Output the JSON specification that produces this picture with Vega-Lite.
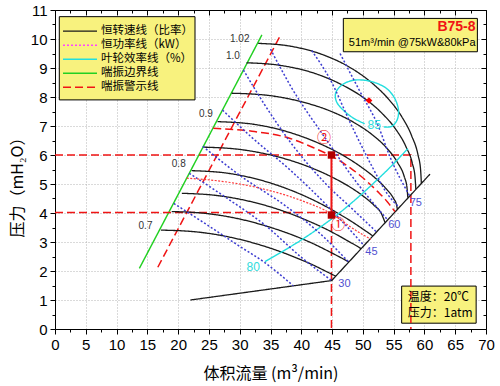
{
  "$schema": "https://vega.github.io/schema/vega-lite/v6.json",
  "width": 431,
  "height": 319,
  "autosize": {"type": "none"},
  "padding": {"left": 55, "top": 10, "right": 14, "bottom": 57},
  "background": "white",
  "config": {
    "view": {"stroke": null},
    "font": "Liberation Sans",
    "axis": {"domainColor": "black", "tickColor": "black", "labelColor": "black", "labelFont": "Liberation Sans", "labelFontSize": 15, "labelFlush": false, "labelOverlap": false, "grid": false, "domain": false, "labels": false, "title": null, "ticks": true, "tickWidth": 1, "domainWidth": 1}
  },
  "datasets": {
    "boxes": [
      {"x": 46.83, "x2": 68.6, "y": 10.71, "y2": 9.56},
      {"x": 56.3, "x2": 68.4, "y": 1.48, "y2": 0.2},
      {"x": 0.7, "x2": 22.74, "y": 10.77, "y2": 7.9}
    ],
    "curves": [
      {"id": "c1", "s": "恒转速线（比率）", "x": 17.2, "y": 3.41}, {"id": "c1", "s": "恒转速线（比率）", "x": 22.88, "y": 3.35}, {"id": "c1", "s": "恒转速线（比率）", "x": 28.56, "y": 3.16}, {"id": "c1", "s": "恒转速线（比率）", "x": 32.82, "y": 2.93}, {"id": "c1", "s": "恒转速线（比率）", "x": 37.08, "y": 2.63}, {"id": "c1", "s": "恒转速线（比率）", "x": 39.92, "y": 2.39}, {"id": "c1", "s": "恒转速线（比率）", "x": 42.19, "y": 2.18}, {"id": "c1", "s": "恒转速线（比率）", "x": 43.9, "y": 2.0}, {"id": "c1", "s": "恒转速线（比率）", "x": 45.04, "y": 1.88}, {"id": "c1", "s": "恒转速线（比率）", "x": 45.6, "y": 1.82},
      {"id": "c2", "s": "恒转速线（比率）", "x": 18.95, "y": 4.05}, {"id": "c2", "s": "恒转速线（比率）", "x": 24.7, "y": 3.98}, {"id": "c2", "s": "恒转速线（比率）", "x": 30.45, "y": 3.77}, {"id": "c2", "s": "恒转速线（比率）", "x": 34.76, "y": 3.52}, {"id": "c2", "s": "恒转速线（比率）", "x": 39.08, "y": 3.2}, {"id": "c2", "s": "恒转速线（比率）", "x": 41.95, "y": 2.94}, {"id": "c2", "s": "恒转速线（比率）", "x": 44.25, "y": 2.7}, {"id": "c2", "s": "恒转速线（比率）", "x": 45.98, "y": 2.51}, {"id": "c2", "s": "恒转速线（比率）", "x": 47.13, "y": 2.38}, {"id": "c2", "s": "恒转速线（比率）", "x": 47.7, "y": 2.31},
      {"id": "c3", "s": "恒转速线（比率）", "x": 20.6, "y": 4.68}, {"id": "c3", "s": "恒转速线（比率）", "x": 26.42, "y": 4.6}, {"id": "c3", "s": "恒转速线（比率）", "x": 32.24, "y": 4.37}, {"id": "c3", "s": "恒转速线（比率）", "x": 36.61, "y": 4.1}, {"id": "c3", "s": "恒转速线（比率）", "x": 40.97, "y": 3.74}, {"id": "c3", "s": "恒转速线（比率）", "x": 43.88, "y": 3.46}, {"id": "c3", "s": "恒转速线（比率）", "x": 46.21, "y": 3.2}, {"id": "c3", "s": "恒转速线（比率）", "x": 47.95, "y": 2.99}, {"id": "c3", "s": "恒转速线（比率）", "x": 49.12, "y": 2.85}, {"id": "c3", "s": "恒转速线（比率）", "x": 49.7, "y": 2.77},
      {"id": "c4", "s": "恒转速线（比率）", "x": 22.2, "y": 5.46}, {"id": "c4", "s": "恒转速线（比率）", "x": 28.08, "y": 5.37}, {"id": "c4", "s": "恒转速线（比率）", "x": 33.96, "y": 5.1}, {"id": "c4", "s": "恒转速线（比率）", "x": 38.37, "y": 4.78}, {"id": "c4", "s": "恒转速线（比率）", "x": 42.78, "y": 4.36}, {"id": "c4", "s": "恒转速线（比率）", "x": 45.72, "y": 4.02}, {"id": "c4", "s": "恒转速线（比率）", "x": 48.07, "y": 3.72}, {"id": "c4", "s": "恒转速线（比率）", "x": 49.84, "y": 3.47}, {"id": "c4", "s": "恒转速线（比率）", "x": 51.01, "y": 3.3}, {"id": "c4", "s": "恒转速线（比率）", "x": 51.6, "y": 3.21},
      {"id": "c5", "s": "恒转速线（比率）", "x": 24.2, "y": 6.27}, {"id": "c5", "s": "恒转速线（比率）", "x": 30.08, "y": 6.19}, {"id": "c5", "s": "恒转速线（比率）", "x": 35.96, "y": 5.95}, {"id": "c5", "s": "恒转速线（比率）", "x": 40.37, "y": 5.66}, {"id": "c5", "s": "恒转速线（比率）", "x": 44.78, "y": 5.26}, {"id": "c5", "s": "恒转速线（比率）", "x": 47.72, "y": 4.92}, {"id": "c5", "s": "恒转速线（比率）", "x": 50.07, "y": 4.58}, {"id": "c5", "s": "恒转速线（比率）", "x": 51.84, "y": 4.26}, {"id": "c5", "s": "恒转速线（比率）", "x": 53.01, "y": 3.98}, {"id": "c5", "s": "恒转速线（比率）", "x": 53.6, "y": 3.67},
      {"id": "c6", "s": "恒转速线（比率）", "x": 26.4, "y": 7.15}, {"id": "c6", "s": "恒转速线（比率）", "x": 32.24, "y": 7.06}, {"id": "c6", "s": "恒转速线（比率）", "x": 38.08, "y": 6.78}, {"id": "c6", "s": "恒转速线（比率）", "x": 42.46, "y": 6.44}, {"id": "c6", "s": "恒转速线（比率）", "x": 46.84, "y": 5.98}, {"id": "c6", "s": "恒转速线（比率）", "x": 49.76, "y": 5.58}, {"id": "c6", "s": "恒转速线（比率）", "x": 52.1, "y": 5.19}, {"id": "c6", "s": "恒转速线（比率）", "x": 53.85, "y": 4.82}, {"id": "c6", "s": "恒转速线（比率）", "x": 55.02, "y": 4.49}, {"id": "c6", "s": "恒转速线（比率）", "x": 55.45, "y": 4.3}, {"id": "c6", "s": "恒转速线（比率）", "x": 55.6, "y": 4.13},
      {"id": "c7", "s": "恒转速线（比率）", "x": 28.7, "y": 8.13}, {"id": "c7", "s": "恒转速线（比率）", "x": 34.42, "y": 8.06}, {"id": "c7", "s": "恒转速线（比率）", "x": 40.14, "y": 7.83}, {"id": "c7", "s": "恒转速线（比率）", "x": 44.43, "y": 7.54}, {"id": "c7", "s": "恒转速线（比率）", "x": 48.72, "y": 7.1}, {"id": "c7", "s": "恒转速线（比率）", "x": 51.58, "y": 6.69}, {"id": "c7", "s": "恒转速线（比率）", "x": 53.87, "y": 6.24}, {"id": "c7", "s": "恒转速线（比率）", "x": 55.58, "y": 5.76}, {"id": "c7", "s": "恒转速线（比率）", "x": 56.73, "y": 5.25}, {"id": "c7", "s": "恒转速线（比率）", "x": 57.16, "y": 4.89}, {"id": "c7", "s": "恒转速线（比率）", "x": 57.3, "y": 4.53},
      {"id": "c8", "s": "恒转速线（比率）", "x": 31.1, "y": 9.18}, {"id": "c8", "s": "恒转速线（比率）", "x": 36.6, "y": 9.09}, {"id": "c8", "s": "恒转速线（比率）", "x": 42.1, "y": 8.82}, {"id": "c8", "s": "恒转速线（比率）", "x": 46.23, "y": 8.46}, {"id": "c8", "s": "恒转速线（比率）", "x": 50.35, "y": 7.94}, {"id": "c8", "s": "恒转速线（比率）", "x": 53.1, "y": 7.44}, {"id": "c8", "s": "恒转速线（比率）", "x": 55.3, "y": 6.9}, {"id": "c8", "s": "恒转速线（比率）", "x": 56.95, "y": 6.31}, {"id": "c8", "s": "恒转速线（比率）", "x": 58.05, "y": 5.7}, {"id": "c8", "s": "恒转速线（比率）", "x": 58.46, "y": 5.27}, {"id": "c8", "s": "恒转速线（比率）", "x": 58.6, "y": 4.83},
      {"id": "c9", "s": "恒转速线（比率）", "x": 33.0, "y": 9.85}, {"id": "c9", "s": "恒转速线（比率）", "x": 38.3, "y": 9.75}, {"id": "c9", "s": "恒转速线（比率）", "x": 43.6, "y": 9.45}, {"id": "c9", "s": "恒转速线（比率）", "x": 47.58, "y": 9.06}, {"id": "c9", "s": "恒转速线（比率）", "x": 51.55, "y": 8.47}, {"id": "c9", "s": "恒转速线（比率）", "x": 54.2, "y": 7.92}, {"id": "c9", "s": "恒转速线（比率）", "x": 56.32, "y": 7.32}, {"id": "c9", "s": "恒转速线（比率）", "x": 57.91, "y": 6.67}, {"id": "c9", "s": "恒转速线（比率）", "x": 58.97, "y": 5.99}, {"id": "c9", "s": "恒转速线（比率）", "x": 59.37, "y": 5.51}, {"id": "c9", "s": "恒转速线（比率）", "x": 59.5, "y": 5.03},
      {"id": "rc", "s": "喘振警示线", "x": 25.7, "y": 6.92}, {"id": "rc", "s": "喘振警示线", "x": 32, "y": 6.82}, {"id": "rc", "s": "喘振警示线", "x": 38.2, "y": 6.57}, {"id": "rc", "s": "喘振警示线", "x": 42, "y": 6.25}, {"id": "rc", "s": "喘振警示线", "x": 45, "y": 5.95}, {"id": "rc", "s": "喘振警示线", "x": 48, "y": 5.55}, {"id": "rc", "s": "喘振警示线", "x": 50.5, "y": 5.12}, {"id": "rc", "s": "喘振警示线", "x": 52.5, "y": 4.72}, {"id": "rc", "s": "喘振警示线", "x": 54, "y": 4.38}, {"id": "rc", "s": "喘振警示线", "x": 55.2, "y": 4.05},
      {"id": "e80", "s": "叶轮效率线（%）", "x": 34.1, "y": 2.32}, {"id": "e80", "s": "叶轮效率线（%）", "x": 37, "y": 2.68}, {"id": "e80", "s": "叶轮效率线（%）", "x": 40, "y": 3.07}, {"id": "e80", "s": "叶轮效率线（%）", "x": 43, "y": 3.5}, {"id": "e80", "s": "叶轮效率线（%）", "x": 46, "y": 3.97}, {"id": "e80", "s": "叶轮效率线（%）", "x": 49, "y": 4.5}, {"id": "e80", "s": "叶轮效率线（%）", "x": 52, "y": 5.08}, {"id": "e80", "s": "叶轮效率线（%）", "x": 55, "y": 5.7}, {"id": "e80", "s": "叶轮效率线（%）", "x": 57.3, "y": 6.22}
    ],
    "poly": [
      {"id": "g", "s": "喘振边界线", "o": 1, "x": 13.7, "y": 2.09}, {"id": "g", "s": "喘振边界线", "o": 2, "x": 33.6, "y": 10.14},
      {"id": "w", "s": "喘振警示线", "o": 1, "x": 16.7, "y": 2.13}, {"id": "w", "s": "喘振警示线", "o": 2, "x": 36.5, "y": 10.08},
      {"id": "r6", "s": "喘振警示线", "o": 1, "x": 0, "y": 6.0}, {"id": "r6", "s": "喘振警示线", "o": 2, "x": 57.8, "y": 6.0}, {"id": "r6", "s": "喘振警示线", "o": 3, "x": 57.8, "y": 0},
      {"id": "r4", "s": "喘振警示线", "o": 1, "x": 0, "y": 4.02}, {"id": "r4", "s": "喘振警示线", "o": 2, "x": 44.9, "y": 4.02}, {"id": "r4", "s": "喘振警示线", "o": 3, "x": 44.9, "y": 0},
      {"id": "ch", "s": "恒转速线（比率）", "o": 1, "x": 22, "y": 1.0}, {"id": "ch", "s": "恒转速线（比率）", "o": 2, "x": 44.94, "y": 1.67}, {"id": "ch", "s": "恒转速线（比率）", "o": 3, "x": 60.9, "y": 5.34}
    ],
    "ellipse": [
      {"id": "e85", "s": "叶轮效率线（%）", "o": 1, "x": 53.4, "y": 6.97}, {"id": "e85", "s": "叶轮效率线（%）", "o": 2, "x": 54.6, "y": 6.98}, {"id": "e85", "s": "叶轮效率线（%）", "o": 3, "x": 55.5, "y": 7.18}, {"id": "e85", "s": "叶轮效率线（%）", "o": 4, "x": 55.8, "y": 7.5}, {"id": "e85", "s": "叶轮效率线（%）", "o": 5, "x": 55.3, "y": 7.9}, {"id": "e85", "s": "叶轮效率线（%）", "o": 6, "x": 54.1, "y": 8.25}, {"id": "e85", "s": "叶轮效率线（%）", "o": 7, "x": 52.3, "y": 8.47}, {"id": "e85", "s": "叶轮效率线（%）", "o": 8, "x": 50.2, "y": 8.58}, {"id": "e85", "s": "叶轮效率线（%）", "o": 9, "x": 48.3, "y": 8.57}, {"id": "e85", "s": "叶轮效率线（%）", "o": 10, "x": 46.7, "y": 8.43}, {"id": "e85", "s": "叶轮效率线（%）", "o": 11, "x": 45.6, "y": 8.15}, {"id": "e85", "s": "叶轮效率线（%）", "o": 12, "x": 45.7, "y": 7.85}, {"id": "e85", "s": "叶轮效率线（%）", "o": 13, "x": 46.8, "y": 7.55}, {"id": "e85", "s": "叶轮效率线（%）", "o": 14, "x": 48.4, "y": 7.28}, {"id": "e85", "s": "叶轮效率线（%）", "o": 15, "x": 50.3, "y": 7.08}
    ],
    "power": [
      {"id": "b1", "x": 19.3, "y": 4.33}, {"id": "b1", "x": 25, "y": 3.55}, {"id": "b1", "x": 30, "y": 2.85}, {"id": "b1", "x": 34, "y": 2.3}, {"id": "b1", "x": 38.7, "y": 1.49},
      {"id": "b2", "x": 21.8, "y": 5.37}, {"id": "b2", "x": 28, "y": 4.5}, {"id": "b2", "x": 34, "y": 3.6}, {"id": "b2", "x": 40.3, "y": 2.42}, {"id": "b2", "x": 44.94, "y": 1.67},
      {"id": "b3", "x": 24.0, "y": 6.3}, {"id": "b3", "x": 30, "y": 5.3}, {"id": "b3", "x": 37.6, "y": 4.22}, {"id": "b3", "x": 43, "y": 3.3}, {"id": "b3", "x": 47.7, "y": 2.31},
      {"id": "b4", "x": 27.2, "y": 7.55}, {"id": "b4", "x": 32, "y": 6.6}, {"id": "b4", "x": 38.2, "y": 5.48}, {"id": "b4", "x": 44, "y": 4.3}, {"id": "b4", "x": 50.2, "y": 2.88},
      {"id": "b5", "x": 30.6, "y": 8.93}, {"id": "b5", "x": 34, "y": 7.75}, {"id": "b5", "x": 38.2, "y": 6.45}, {"id": "b5", "x": 44, "y": 5.0}, {"id": "b5", "x": 48.5, "y": 4.1}, {"id": "b5", "x": 52.2, "y": 3.35},
      {"id": "b6", "x": 35, "y": 9.65}, {"id": "b6", "x": 38.2, "y": 8.4}, {"id": "b6", "x": 44, "y": 6.55}, {"id": "b6", "x": 49, "y": 5.05}, {"id": "b6", "x": 54, "y": 3.77},
      {"id": "b7", "x": 41.7, "y": 9.6}, {"id": "b7", "x": 44.7, "y": 8.6}, {"id": "b7", "x": 48.2, "y": 7.0}, {"id": "b7", "x": 51.5, "y": 5.6}, {"id": "b7", "x": 54, "y": 4.65}, {"id": "b7", "x": 55.9, "y": 4.2},
      {"id": "b8", "x": 46.3, "y": 9.5}, {"id": "b8", "x": 49.5, "y": 8.2}, {"id": "b8", "x": 52.5, "y": 7.0}, {"id": "b8", "x": 54.4, "y": 5.94}, {"id": "b8", "x": 57.6, "y": 4.59}
    ],
    "pline": [
      {"x": 21.4, "y": 5.2}, {"x": 26, "y": 5.12}, {"x": 30, "y": 5.0}, {"x": 34, "y": 4.82}, {"x": 38, "y": 4.58}, {"x": 41, "y": 4.35}, {"x": 44, "y": 4.08}, {"x": 46, "y": 3.82}, {"x": 48, "y": 3.52}, {"x": 50, "y": 3.25}, {"x": 51.3, "y": 3.1}
    ],
    "vrule": [{"x": 44.9, "y": 3.93, "y2": 6.0}],
    "squares": [{"x": 44.9, "y": 6.0}, {"x": 44.9, "y": 3.93}],
    "design": [{"x": 51.0, "y": 7.88}],
    "labels": [
      {"t": "1.02", "x": 30.0, "y": 10.0, "g": "s"},
      {"t": "1.0", "x": 28.9, "y": 9.41, "g": "s"},
      {"t": "0.9", "x": 24.5, "y": 7.41, "g": "s"},
      {"t": "0.8", "x": 20.1, "y": 5.69, "g": "s"},
      {"t": "0.7", "x": 14.7, "y": 3.56, "g": "s"},
      {"t": "30", "x": 47.0, "y": 1.55, "g": "p"},
      {"t": "45", "x": 51.4, "y": 2.67, "g": "p"},
      {"t": "60", "x": 55.1, "y": 3.59, "g": "p"},
      {"t": "75", "x": 58.6, "y": 4.33, "g": "p"},
      {"t": "80", "x": 32.2, "y": 2.15, "g": "e"},
      {"t": "85", "x": 51.85, "y": 7.03, "g": "e"},
      {"t": "①", "x": 46.0, "y": 3.59, "g": "c"},
      {"t": "②", "x": 43.7, "y": 6.57, "g": "c"}
    ],
    "boxtext": [
      {"t": "B75-8", "x": 68.3, "y": 10.4, "g": "title"},
      {"t": "51m³/min @75kW&80kPa", "x": 68.3, "y": 9.86, "g": "sub"},
      {"t": "温度：20℃", "x": 57.3, "y": 1.1, "g": "env"},
      {"t": "压力：1atm", "x": 57.3, "y": 0.55, "g": "env"}
    ]
  },
  "resolve": {"axis": {"x": "independent", "y": "independent"}},
  "layer": [
    {
      "data": {"name": "boxes"},
      "mark": {"type": "rect", "fill": "#f8f27e", "stroke": "black", "strokeWidth": 1},
      "encoding": {
        "x": {"field": "x", "type": "quantitative", "scale": {"domain": [0, 70], "nice": false, "zero": false},
          "axis": {"orient": "bottom", "values": [0, 5, 10, 15, 20, 25, 30, 35, 40, 45, 50, 55, 60, 65, 70], "tickSize": 5, "labels": true, "domain": true, "grid": true, "gridColor": "#b4b4b4", "gridDash": [1, 2], "gridWidth": 1, "labelPadding": 3, "title": "体积流量 (m³/min)", "titleFont": "Noto Sans CJK SC", "titleFontSize": 16, "titleFontWeight": "normal", "titleColor": "black", "titleY": 44, "titleBaseline": "middle"}},
        "x2": {"field": "x2"},
        "y": {"field": "y", "type": "quantitative", "scale": {"domain": [0, 11], "nice": false, "zero": false},
          "axis": {"orient": "left", "values": [0, 1, 2, 3, 4, 5, 6, 7, 8, 9, 10, 11], "tickSize": 5, "labels": true, "domain": true, "grid": true, "gridColor": "#b4b4b4", "gridDash": [1, 2], "gridWidth": 1, "labelPadding": 3, "title": "压力（mH₂O）", "titleFont": "Noto Sans CJK SC", "titleFontSize": 16, "titleFontWeight": "normal", "titleColor": "black", "titleX": -38, "titleY": 173, "titleAngle": -90, "titleAlign": "center", "titleBaseline": "middle"}},
        "y2": {"field": "y2"}
      }
    },
    {
      "data": {"name": "poly"},
      "mark": {"type": "line"},
      "encoding": {
        "x": {"field": "x", "type": "quantitative", "scale": {"domain": [0, 70], "nice": false, "zero": false}, "axis": null},
        "y": {"field": "y", "type": "quantitative", "scale": {"domain": [0, 11], "nice": false, "zero": false}, "axis": null},
        "order": {"field": "o"},
        "detail": {"field": "id"},
        "color": {"field": "s", "type": "nominal", "scale": {"domain": ["恒转速线（比率）", "恒功率线（kW）", "叶轮效率线（%）", "喘振边界线", "喘振警示线"], "range": ["#1a1a1a", "#ff44ff", "#22dede", "#22d022", "#f01414"]},
          "legend": {"orient": "none", "legendX": 3, "legendY": 11.2, "title": null, "symbolType": "M-3.4,0L3.4,0", "symbolSize": 100, "symbolOffset": 12, "symbolStrokeWidth": 2, "rowPadding": 2, "padding": 4, "fillColor": null, "strokeColor": null, "labelFont": "Noto Sans CJK SC", "labelFontSize": 11.5, "labelColor": "black", "labelOffset": 15, "labelLimit": 300}},
        "strokeDash": {"field": "s", "type": "nominal", "scale": {"domain": ["恒转速线（比率）", "恒功率线（kW）", "叶轮效率线（%）", "喘振边界线", "喘振警示线"], "range": [[1, 0], [2, 2], [1, 0], [1, 0], [8, 4]]},
          "legend": {"orient": "none", "legendX": 3, "legendY": 11.2, "title": null, "symbolType": "M-3.4,0L3.4,0", "symbolSize": 100, "symbolOffset": 12, "symbolStrokeWidth": 2, "rowPadding": 2, "padding": 4, "fillColor": null, "strokeColor": null, "labelFont": "Noto Sans CJK SC", "labelFontSize": 11.5, "labelColor": "black", "labelOffset": 15, "labelLimit": 300}},
        "strokeWidth": {"field": "s", "type": "ordinal", "scale": {"domain": ["恒转速线（比率）", "恒功率线（kW）", "叶轮效率线（%）", "喘振边界线", "喘振警示线"], "range": [1.3, 1.5, 2, 2, 2]}, "legend": null}
      }
    },
    {
      "data": {"name": "curves"},
      "mark": {"type": "line", "interpolate": "monotone"},
      "encoding": {
        "x": {"field": "x", "type": "quantitative", "scale": {"domain": [0, 70], "nice": false, "zero": false}, "axis": null},
        "y": {"field": "y", "type": "quantitative", "scale": {"domain": [0, 11], "nice": false, "zero": false}, "axis": null},
        "detail": {"field": "id"},
        "color": {"field": "s", "type": "nominal", "scale": {"domain": ["恒转速线（比率）", "恒功率线（kW）", "叶轮效率线（%）", "喘振边界线", "喘振警示线"], "range": ["#1a1a1a", "#ff44ff", "#22dede", "#22d022", "#f01414"]},
          "legend": {"orient": "none", "legendX": 3, "legendY": 11.2, "title": null, "symbolType": "M-3.4,0L3.4,0", "symbolSize": 100, "symbolOffset": 12, "symbolStrokeWidth": 2, "rowPadding": 2, "padding": 4, "fillColor": null, "strokeColor": null, "labelFont": "Noto Sans CJK SC", "labelFontSize": 11.5, "labelColor": "black", "labelOffset": 15, "labelLimit": 300}},
        "strokeDash": {"field": "s", "type": "nominal", "scale": {"domain": ["恒转速线（比率）", "恒功率线（kW）", "叶轮效率线（%）", "喘振边界线", "喘振警示线"], "range": [[1, 0], [2, 2], [1, 0], [1, 0], [8, 4]]},
          "legend": {"orient": "none", "legendX": 3, "legendY": 11.2, "title": null, "symbolType": "M-3.4,0L3.4,0", "symbolSize": 100, "symbolOffset": 12, "symbolStrokeWidth": 2, "rowPadding": 2, "padding": 4, "fillColor": null, "strokeColor": null, "labelFont": "Noto Sans CJK SC", "labelFontSize": 11.5, "labelColor": "black", "labelOffset": 15, "labelLimit": 300}},
        "strokeWidth": {"field": "s", "type": "ordinal", "scale": {"domain": ["恒转速线（比率）", "恒功率线（kW）", "叶轮效率线（%）", "喘振边界线", "喘振警示线"], "range": [1.3, 1.5, 2, 2, 2]}, "legend": null}
      }
    },
    {
      "data": {"name": "ellipse"},
      "mark": {"type": "line", "interpolate": "catmull-rom"},
      "encoding": {
        "x": {"field": "x", "type": "quantitative", "scale": {"domain": [0, 70], "nice": false, "zero": false}, "axis": null},
        "y": {"field": "y", "type": "quantitative", "scale": {"domain": [0, 11], "nice": false, "zero": false}, "axis": null},
        "order": {"field": "o"},
        "detail": {"field": "id"},
        "color": {"field": "s", "type": "nominal", "scale": {"domain": ["恒转速线（比率）", "恒功率线（kW）", "叶轮效率线（%）", "喘振边界线", "喘振警示线"], "range": ["#1a1a1a", "#ff44ff", "#22dede", "#22d022", "#f01414"]},
          "legend": {"orient": "none", "legendX": 3, "legendY": 11.2, "title": null, "symbolType": "M-3.4,0L3.4,0", "symbolSize": 100, "symbolOffset": 12, "symbolStrokeWidth": 2, "rowPadding": 2, "padding": 4, "fillColor": null, "strokeColor": null, "labelFont": "Noto Sans CJK SC", "labelFontSize": 11.5, "labelColor": "black", "labelOffset": 15, "labelLimit": 300}},
        "strokeDash": {"field": "s", "type": "nominal", "scale": {"domain": ["恒转速线（比率）", "恒功率线（kW）", "叶轮效率线（%）", "喘振边界线", "喘振警示线"], "range": [[1, 0], [2, 2], [1, 0], [1, 0], [8, 4]]},
          "legend": {"orient": "none", "legendX": 3, "legendY": 11.2, "title": null, "symbolType": "M-3.4,0L3.4,0", "symbolSize": 100, "symbolOffset": 12, "symbolStrokeWidth": 2, "rowPadding": 2, "padding": 4, "fillColor": null, "strokeColor": null, "labelFont": "Noto Sans CJK SC", "labelFontSize": 11.5, "labelColor": "black", "labelOffset": 15, "labelLimit": 300}},
        "strokeWidth": {"field": "s", "type": "ordinal", "scale": {"domain": ["恒转速线（比率）", "恒功率线（kW）", "叶轮效率线（%）", "喘振边界线", "喘振警示线"], "range": [1.3, 1.5, 2, 2, 2]}, "legend": null}
      }
    },
    {
      "data": {"name": "power"},
      "mark": {"type": "line", "interpolate": "monotone", "color": "#3c3cd0", "strokeDash": [2, 2], "strokeWidth": 1.5},
      "encoding": {
        "x": {"field": "x", "type": "quantitative", "scale": {"domain": [0, 70], "nice": false, "zero": false}, "axis": null},
        "y": {"field": "y", "type": "quantitative", "scale": {"domain": [0, 11], "nice": false, "zero": false}, "axis": null},
        "detail": {"field": "id"}
      }
    },
    {
      "data": {"name": "pline"},
      "mark": {"type": "line", "interpolate": "monotone", "color": "#ff3b3b", "strokeDash": [2, 1.5], "strokeWidth": 1.2},
      "encoding": {
        "x": {"field": "x", "type": "quantitative", "scale": {"domain": [0, 70], "nice": false, "zero": false}, "axis": null},
        "y": {"field": "y", "type": "quantitative", "scale": {"domain": [0, 11], "nice": false, "zero": false}, "axis": null}
      }
    },
    {
      "data": {"name": "vrule"},
      "mark": {"type": "rule", "color": "#f01414", "strokeWidth": 2},
      "encoding": {
        "x": {"field": "x", "type": "quantitative", "scale": {"domain": [0, 70], "nice": false, "zero": false}, "axis": null},
        "y": {"field": "y", "type": "quantitative", "scale": {"domain": [0, 11], "nice": false, "zero": false}, "axis": null},
        "y2": {"field": "y2"}
      }
    },
    {
      "data": {"name": "squares"},
      "mark": {"type": "point", "shape": "square", "filled": true, "color": "#b30000", "size": 55, "opacity": 1},
      "encoding": {
        "x": {"field": "x", "type": "quantitative", "scale": {"domain": [0, 70], "nice": false, "zero": false}, "axis": null},
        "y": {"field": "y", "type": "quantitative", "scale": {"domain": [0, 11], "nice": false, "zero": false}, "axis": null}
      }
    },
    {
      "data": {"name": "design"},
      "mark": {"type": "point", "shape": "diamond", "filled": true, "color": "#ff0000", "size": 45, "opacity": 1},
      "encoding": {
        "x": {"field": "x", "type": "quantitative", "scale": {"domain": [0, 70], "nice": false, "zero": false}, "axis": null},
        "y": {"field": "y", "type": "quantitative", "scale": {"domain": [0, 11], "nice": false, "zero": false}, "axis": null}
      }
    },
    {
      "data": {"name": "labels"},
      "transform": [{"filter": "datum.g == 's'"}],
      "mark": {"type": "text", "font": "Liberation Sans", "fontSize": 10, "color": "#333333", "align": "center", "baseline": "middle"},
      "encoding": {
        "x": {"field": "x", "type": "quantitative", "scale": {"domain": [0, 70], "nice": false, "zero": false},
          "axis": {"orient": "bottom", "values": [2.5, 7.5, 12.5, 17.5, 22.5, 27.5, 32.5, 37.5, 42.5, 47.5, 52.5, 57.5, 62.5, 67.5], "tickSize": 3, "labels": false, "domain": false, "grid": false, "title": null}},
        "y": {"field": "y", "type": "quantitative", "scale": {"domain": [0, 11], "nice": false, "zero": false},
          "axis": {"orient": "left", "values": [0.5, 1.5, 2.5, 3.5, 4.5, 5.5, 6.5, 7.5, 8.5, 9.5, 10.5], "tickSize": 3, "labels": false, "domain": false, "grid": false, "title": null}},
        "text": {"field": "t"}
      }
    },
    {
      "data": {"name": "labels"},
      "transform": [{"filter": "datum.g == 'p'"}],
      "mark": {"type": "text", "font": "Liberation Sans", "fontSize": 11, "color": "#5050d0", "align": "center", "baseline": "middle"},
      "encoding": {
        "x": {"field": "x", "type": "quantitative", "scale": {"domain": [0, 70], "nice": false, "zero": false},
          "axis": {"orient": "top", "values": [0, 5, 10, 15, 20, 25, 30, 35, 40, 45, 50, 55, 60, 65, 70], "tickSize": -5, "labels": false, "domain": true, "grid": false, "title": null}},
        "y": {"field": "y", "type": "quantitative", "scale": {"domain": [0, 11], "nice": false, "zero": false},
          "axis": {"orient": "right", "values": [0, 1, 2, 3, 4, 5, 6, 7, 8, 9, 10, 11], "tickSize": -5, "labels": false, "domain": true, "grid": false, "title": null}},
        "text": {"field": "t"}
      }
    },
    {
      "data": {"name": "labels"},
      "transform": [{"filter": "datum.g == 'e'"}],
      "mark": {"type": "text", "font": "Liberation Sans", "fontSize": 12, "color": "#30dcdc", "align": "center", "baseline": "middle"},
      "encoding": {
        "x": {"field": "x", "type": "quantitative", "scale": {"domain": [0, 70], "nice": false, "zero": false},
          "axis": {"orient": "top", "values": [2.5, 7.5, 12.5, 17.5, 22.5, 27.5, 32.5, 37.5, 42.5, 47.5, 52.5, 57.5, 62.5, 67.5], "tickSize": -3, "labels": false, "domain": false, "grid": false, "title": null}},
        "y": {"field": "y", "type": "quantitative", "scale": {"domain": [0, 11], "nice": false, "zero": false},
          "axis": {"orient": "right", "values": [0.5, 1.5, 2.5, 3.5, 4.5, 5.5, 6.5, 7.5, 8.5, 9.5, 10.5], "tickSize": -3, "labels": false, "domain": false, "grid": false, "title": null}},
        "text": {"field": "t"}
      }
    },
    {
      "data": {"name": "labels"},
      "transform": [{"filter": "datum.g == 'c'"}],
      "mark": {"type": "text", "font": "Noto Sans CJK SC", "fontSize": 14, "color": "#f01414", "align": "center", "baseline": "middle"},
      "encoding": {
        "x": {"field": "x", "type": "quantitative", "scale": {"domain": [0, 70], "nice": false, "zero": false}, "axis": null},
        "y": {"field": "y", "type": "quantitative", "scale": {"domain": [0, 11], "nice": false, "zero": false}, "axis": null},
        "text": {"field": "t"}
      }
    },
    {
      "data": {"name": "boxtext"},
      "transform": [{"filter": "datum.g == 'title'"}],
      "mark": {"type": "text", "font": "Liberation Sans", "fontSize": 14, "fontWeight": "bold", "color": "#f01414", "align": "right", "baseline": "middle"},
      "encoding": {
        "x": {"field": "x", "type": "quantitative", "scale": {"domain": [0, 70], "nice": false, "zero": false}, "axis": null},
        "y": {"field": "y", "type": "quantitative", "scale": {"domain": [0, 11], "nice": false, "zero": false}, "axis": null},
        "text": {"field": "t"}
      }
    },
    {
      "data": {"name": "boxtext"},
      "transform": [{"filter": "datum.g == 'sub'"}],
      "mark": {"type": "text", "font": "Liberation Sans", "fontSize": 11, "color": "black", "align": "right", "baseline": "middle"},
      "encoding": {
        "x": {"field": "x", "type": "quantitative", "scale": {"domain": [0, 70], "nice": false, "zero": false}, "axis": null},
        "y": {"field": "y", "type": "quantitative", "scale": {"domain": [0, 11], "nice": false, "zero": false}, "axis": null},
        "text": {"field": "t"}
      }
    },
    {
      "data": {"name": "boxtext"},
      "transform": [{"filter": "datum.g == 'env'"}],
      "mark": {"type": "text", "font": "Noto Sans CJK SC", "fontSize": 12, "color": "black", "align": "left", "baseline": "middle"},
      "encoding": {
        "x": {"field": "x", "type": "quantitative", "scale": {"domain": [0, 70], "nice": false, "zero": false}, "axis": null},
        "y": {"field": "y", "type": "quantitative", "scale": {"domain": [0, 11], "nice": false, "zero": false}, "axis": null},
        "text": {"field": "t"}
      }
    }
  ]
}
